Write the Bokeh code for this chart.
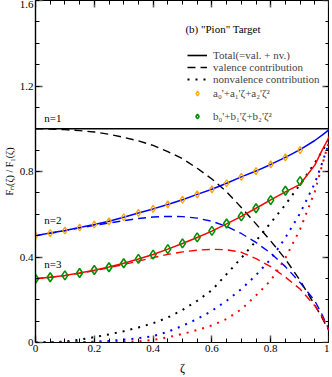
from bokeh.plotting import figure
from bokeh.models import (LinearAxis, FixedTicker, NumeralTickFormatter, Legend,
                          LegendItem, Label, Range1d)
from bokeh.embed import file_html
from bokeh.resources import INLINE

# ---------------- data ----------------
zeta = [0.0, 0.05, 0.1, 0.15, 0.2, 0.25, 0.3, 0.35, 0.4, 0.45, 0.5, 0.55,
        0.6, 0.65, 0.7, 0.75, 0.8, 0.85, 0.9, 0.95, 0.975, 1.0]

# n = 1
n1_total = [1.0] * len(zeta)
n1_val = [1.0, 0.999, 0.996, 0.991, 0.985, 0.974, 0.96, 0.943, 0.922, 0.893, 0.86, 0.815,
          0.765, 0.705, 0.632, 0.555, 0.475, 0.39, 0.29, 0.175, 0.115, 0.05]
n1_nv = [0.0, 0.001, 0.005, 0.013, 0.025, 0.038, 0.053, 0.07, 0.09, 0.117, 0.152, 0.195,
         0.245, 0.32, 0.395, 0.475, 0.56, 0.645, 0.74, 0.84, 0.895, 0.95]

# n = 2
n2_total = [0.5, 0.512, 0.524, 0.538, 0.552, 0.567, 0.586, 0.606, 0.625, 0.646, 0.668, 0.693,
            0.717, 0.745, 0.775, 0.802, 0.833, 0.866, 0.902, 0.945, 0.97, 0.997]
n2_val = [0.5, 0.511, 0.523, 0.536, 0.548, 0.559, 0.57, 0.58, 0.587, 0.59, 0.589, 0.582,
          0.567, 0.543, 0.51, 0.468, 0.418, 0.355, 0.28, 0.195, 0.13, 0.054]
n2_nv = [0.0, 0.0, 0.001, 0.002, 0.004, 0.008, 0.013, 0.02, 0.03, 0.05, 0.078, 0.11,
         0.148, 0.195, 0.25, 0.315, 0.39, 0.49, 0.605, 0.745, 0.84, 0.94]

# n = 3
n3_total = [0.298, 0.305, 0.314, 0.325, 0.338, 0.353, 0.371, 0.391, 0.412, 0.437, 0.463, 0.491,
            0.521, 0.555, 0.59, 0.628, 0.667, 0.705, 0.74, 0.83, 0.9, 0.965]
n3_val = [0.298, 0.305, 0.313, 0.324, 0.336, 0.35, 0.365, 0.381, 0.397, 0.412, 0.424, 0.432,
          0.436, 0.434, 0.422, 0.392, 0.355, 0.306, 0.25, 0.172, 0.12, 0.054]
n3_nv = [0.0, 0.0, 0.0, 0.001, 0.001, 0.002, 0.003, 0.006, 0.012, 0.024, 0.04, 0.058,
         0.08, 0.11, 0.155, 0.22, 0.29, 0.395, 0.53, 0.705, 0.83, 0.95]

# fit points
fit_zeta = [0.0, 0.05, 0.1, 0.15, 0.2, 0.25, 0.3, 0.35, 0.4, 0.45, 0.5, 0.55,
            0.6, 0.65, 0.7, 0.75, 0.8, 0.85, 0.9]
fit_a = [0.5, 0.512, 0.524, 0.538, 0.552, 0.567, 0.586, 0.606, 0.625, 0.646, 0.668, 0.693,
         0.716, 0.745, 0.775, 0.802, 0.833, 0.866, 0.9]
fit_b = [0.298, 0.305, 0.314, 0.325, 0.339, 0.352, 0.371, 0.391, 0.411, 0.437, 0.464, 0.492,
         0.522, 0.557, 0.59, 0.628, 0.666, 0.71, 0.755]

x_major = [0.0, 0.2, 0.4, 0.6, 0.8, 1.0]
x_minor = [i * 0.05 for i in range(21)]
y_major = [0.0, 0.4, 0.8, 1.2, 1.6]
y_minor = [i * 0.1 for i in range(17)]

FONT = "Liberation Serif"

# ---------------- figure ----------------
p = figure(frame_width=294, frame_height=342, x_range=Range1d(0, 1), y_range=Range1d(0, 1.6),
           output_backend="svg", toolbar_location=None,
           min_border_left=26, min_border_right=0, min_border_top=0, min_border_bottom=0,
           x_axis_label="\u03b6", y_axis_label="F\u2099(\u03b6) / F\u2081(\u03b6)")
p.xgrid.visible = False
p.ygrid.visible = False
p.outline_line_color = "black"
p.outline_line_width = 1.2
p.background_fill_color = "white"
p.border_fill_color = "white"

xt = FixedTicker(ticks=x_major, minor_ticks=x_minor)
yt = FixedTicker(ticks=y_major, minor_ticks=y_minor)

def style_axis(ax, ticks, labels=True):
    ax.axis_line_color = "black"
    ax.axis_line_width = 1.2
    ax.major_tick_in = 7
    ax.major_tick_out = 0
    ax.minor_tick_in = 4
    ax.minor_tick_out = 0
    ax.major_tick_line_color = "#555555"
    ax.major_tick_line_width = 1.5
    ax.minor_tick_line_color = "black"
    ax.formatter = NumeralTickFormatter(format="0.[0]")
    if labels:
        ax.major_label_text_font = FONT
        ax.major_label_text_font_size = "11px"
        ax.major_label_text_color = "black"
        ax.major_label_standoff = 2
        ax.axis_label_text_font = FONT
        ax.axis_label_text_font_style = "normal"
        ax.axis_label_text_color = "black"
    else:
        ax.major_label_overrides = {t: "" for t in ticks}
        ax.major_label_text_font_size = "1px"
        ax.major_label_standoff = 0
        ax.axis_label_standoff = 0

p.xaxis.ticker = xt
p.yaxis.ticker = yt
for ax in p.xaxis:
    style_axis(ax, x_major)
    ax.axis_label_text_font_size = "12px"
    ax.axis_label_standoff = 6
for ax in p.yaxis:
    style_axis(ax, y_major)
    ax.axis_label_text_font_size = "10px"
    ax.axis_label_standoff = 2

# mirrored tick axes on top and right, pinned at the frame edges
top = LinearAxis(ticker=xt, fixed_location=1.6)
style_axis(top, x_major, labels=False)
p.add_layout(top, "above")
right = LinearAxis(ticker=yt, fixed_location=1.0)
style_axis(right, y_major, labels=False)
p.add_layout(right, "right")

# ---------------- curves ----------------
DASH = "8 5"
DOT = "2 6"
r_tot = p.line(zeta, n1_total, line_color="black", line_width=1.6)
r_val = p.line(zeta, n1_val, line_color="black", line_width=1.4, line_dash=DASH)
r_nv = p.line(zeta, n1_nv, line_color="black", line_width=2, line_dash=DOT)

p.line(zeta, n2_total, line_color="#0000ff", line_width=1.5)
p.line(zeta, n2_val, line_color="#0000ff", line_width=1.4, line_dash=DASH)
p.line(zeta, n2_nv, line_color="#0000ff", line_width=2, line_dash=DOT)

p.line(zeta, n3_total, line_color="#ff0000", line_width=1.5)
p.line(zeta, n3_val, line_color="#ff0000", line_width=1.4, line_dash=DASH)
p.line(zeta, n3_nv, line_color="#ff0000", line_width=2, line_dash=DOT)

r_a = p.scatter(fit_zeta, fit_a, marker="diamond", size=7, fill_alpha=0,
                line_color="#ffa500", line_width=1.3)
r_b = p.scatter(fit_zeta, fit_b, marker="diamond", size=9, fill_alpha=0,
                line_color="#009000", line_width=1.6)

# ---------------- labels ----------------
for txt, yy in [("n=1", 1.049), ("n=2", 0.571), ("n=3", 0.365)]:
    p.add_layout(Label(x=0.03, y=yy, text=txt, text_font=FONT, text_font_size="11px",
                       text_font_style="normal", text_color="black", text_baseline="middle"))

p.add_layout(Label(x=0.51, y=1.468, text='(b) "Pion" Target', text_font=FONT,
                   text_font_size="11px", text_font_style="normal", text_color="black",
                   text_baseline="middle"))

# ---------------- legends ----------------
leg1 = Legend(items=[LegendItem(label="Total(=val. + nv.)", renderers=[r_tot]),
                     LegendItem(label="valence contribution", renderers=[r_val]),
                     LegendItem(label="nonvalence contribution", renderers=[r_nv])],
              location=(152, 257))
leg2 = Legend(items=[LegendItem(label="a\u2080'+a\u2081'\u03b6+a\u2082'\u03b6\u00b2", renderers=[r_a]),
                     LegendItem(label="b\u2080'+b\u2081'\u03b6+b\u2082'\u03b6\u00b2", renderers=[r_b])],
              location=(152, 220))
for lg, sp in [(leg1, 0), (leg2, 11)]:
    lg.padding = 0
    lg.margin = 0
    lg.spacing = sp
    lg.border_line_alpha = 0
    lg.background_fill_alpha = 0
    lg.label_text_font = FONT
    lg.label_text_font_size = "11px"
    lg.label_text_line_height = 0.9
    lg.label_height = 12
    lg.glyph_height = 12
    lg.glyph_width = 20
    lg.label_standoff = 6
    p.add_layout(lg, "center")

open("out.html", "w").write(file_html(p, INLINE))
